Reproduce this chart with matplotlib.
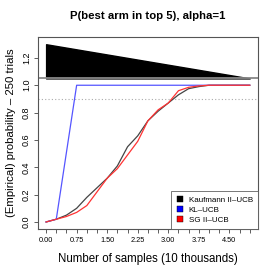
import matplotlib
matplotlib.use("Agg")
import matplotlib.pyplot as plt
from matplotlib.lines import Line2D
import numpy as np

plt.rcParams['font.family'] = ['Liberation Sans', 'DejaVu Sans']

# samples in units of 10 thousands
samples = [0.0, 0.25, 0.5, 0.75, 1.0, 1.25, 1.5, 1.75, 2.0, 2.25, 2.5,
           2.75, 3.0, 3.25, 3.5, 3.75, 4.0, 4.25, 4.5, 4.75, 5.0]
kaufmann = [0.0, 0.02, 0.05, 0.10, 0.18, 0.25, 0.32, 0.41, 0.55, 0.63, 0.74,
            0.81, 0.87, 0.93, 0.975, 0.99, 1.0, 1.0, 1.0, 1.0, 1.0]
kl_ucb = [0.0, 0.02, 0.51, 1.0, 1.0, 1.0, 1.0, 1.0, 1.0, 1.0, 1.0,
          1.0, 1.0, 1.0, 1.0, 1.0, 1.0, 1.0, 1.0, 1.0, 1.0]
sg_ucb = [0.0, 0.02, 0.04, 0.07, 0.12, 0.22, 0.32, 0.39, 0.49, 0.59, 0.74,
          0.82, 0.87, 0.96, 0.985, 0.995, 1.0, 1.0, 1.0, 1.0, 1.0]

# black wedge on top (budget indicator)
wedge_x = [0.0, 5.0]
wedge_top = [1.3, 1.05]
wedge_base = 1.05
target = 0.9

fig = plt.figure(figsize=(2.77, 2.77), dpi=100)
ax = fig.add_axes([0.137, 0.173, 0.794, 0.693])

ax.fill_between(wedge_x, wedge_base, wedge_top, color='black', lw=1, edgecolor='black')
ax.axhline(wedge_base, color='#888888', lw=1.3)
ax.axhline(target, color='#aaaaaa', lw=0.8, ls=(0, (1, 2)))

ax.plot(samples, kaufmann, color='#444444', lw=0.9)
ax.plot(samples, kl_ucb, color='#5555ff', lw=0.9)
ax.plot(samples, sg_ucb, color='#ff3333', lw=0.9)

ax.set_xlim(-0.2, 5.2)
ax.set_ylim(-0.052, 1.352)

ax.set_xticks(np.arange(0, 5.01, 0.25))
ax.set_xticklabels(['%.2f' % t if i % 3 == 0 else '' for i, t in enumerate(np.arange(0, 5.01, 0.25))])
ax.set_yticks([0.0, 0.2, 0.4, 0.6, 0.8, 1.0, 1.2])
ax.set_yticklabels(['0.0', '0.2', '0.4', '0.6', '0.8', '1.0', '1.2'], rotation=90, va='center')
ax.tick_params(axis='x', labelsize=5.3, length=3, width=0.6, color='#444444', pad=3)
ax.tick_params(axis='y', labelsize=6.5, length=3, width=0.6, color='#444444', pad=2)
for s in ax.spines.values():
    s.set_color('#555555')
    s.set_linewidth(0.8)

ax.set_title('P(best arm in top 5), alpha=1', fontsize=8.2, fontweight='bold', pad=13)
ax.set_xlabel('Number of samples (10 thousands)', fontsize=8.3, labelpad=6)
ax.set_ylabel('(Empirical) probability \u2013 250 trials', fontsize=8.2, labelpad=4)

handles = [Line2D([], [], ls='none', marker='s', ms=4.2, mfc=c, mec='black', mew=0.3)
           for c in ['black', 'blue', 'red']]
leg = ax.legend(handles, ['Kaufmann II\u2013UCB', 'KL\u2013UCB', 'SG II\u2013UCB'],
                loc='lower right', fontsize=5.8, frameon=True, fancybox=False,
                borderaxespad=0.0, handlelength=1.0, handletextpad=0.5,
                labelspacing=0.3, borderpad=0.65)
leg.get_frame().set_edgecolor('#555555')
leg.get_frame().set_linewidth(0.7)

fig.savefig('out.png', dpi=100)
